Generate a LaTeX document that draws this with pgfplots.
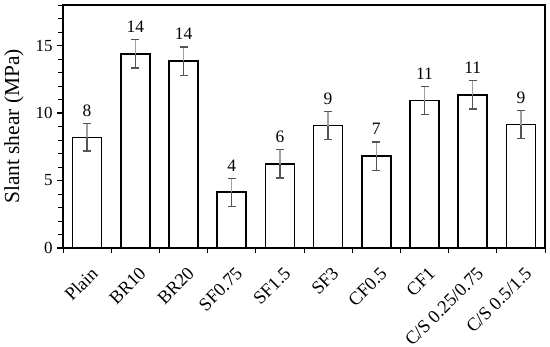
\documentclass[border=0pt]{standalone}
\usepackage{pgfplots}
\pgfplotsset{compat=1.18}
\usepackage{pgfplotstable}
\usepackage{fontspec}
\setmainfont{Liberation Serif}
\definecolor{errlight}{RGB}{160,160,160}
\definecolor{errdark}{RGB}{85,85,85}

\pgfplotstableread{
x y e lab
0 8.20 1.02 8
1 14.38 1.05 14
2 13.84 1.05 14
3 4.13 1.03 4
4 6.23 1.05 6
5 9.07 1.05 9
6 6.80 1.05 7
7 10.92 1.03 11
8 11.34 1.05 11
9 9.14 1.03 9
}\data

\begin{document}
\begin{tikzpicture}
\path[use as bounding box] (-63bp,-99bp) rectangle (487bp,248bp);
\begin{axis}[
  scale only axis, width=482bp, height=243bp,
  at={(0,0)}, anchor=south west,
  xmin=-0.5, xmax=9.5, ymin=0, ymax=18,
  axis line style={line width=1.2pt},
  xtick={0,...,9},
  xticklabels={Plain,BR10,BR20,SF0.75,SF1.5,SF3,CF0.5,CF1,C/S 0.25/0.75,C/S 0.5/1.5},
  major x tick style={draw=none},
  minor xtick={-0.5,0.5,...,9.5},
  ytick={0,5,10,15},
  minor ytick={1,2,3,4,6,7,8,9,11,12,13,14,16,17,18},
  xtick pos=bottom, ytick pos=left,
  tick align=outside,
  major tick length=6bp, minor tick length=5bp,
  every tick/.style={black, line width=1.1pt},
  every minor tick/.style={black, line width=1pt},
  /pgf/number format/assume math mode=true,
  yticklabel style={font=\fontsize{17}{17}\selectfont, xshift=-1bp},
  xticklabel style={font=\fontsize{18.5}{18.5}\selectfont, rotate=45, anchor=east, xshift=-3bp, yshift=-17bp},
  ylabel={Slant shear (MPa)},
  ylabel style={font=\fontsize{21.5}{21.5}\selectfont, at={(axis description cs:-0.1017,0.5)}, anchor=center, rotate=0},
]
\addplot[ybar, bar width=0.6, bar shift=0pt, fill=white, draw=black, line width=1.5pt,
  error bars/.cd, y dir=minus, y explicit,
  error bar style={draw=errdark, line width=1.3pt},
  error mark options={rotate=90, draw=errdark, mark size=4bp, line width=1.3pt}]
  table[x=x, y=y, y error=e]{\data};
\addplot[draw=none, mark=none,
  error bars/.cd, y dir=plus, y explicit,
  error bar style={draw=errlight, line width=1.3pt},
  error mark options={rotate=90, draw=errdark, mark size=4bp, line width=1.3pt}]
  table[x=x, y=y, y error=e]{\data};
\addplot[draw=none, mark=none, nodes near coords, point meta=explicit symbolic,
  nodes near coords style={font=\fontsize{17.5}{17.5}\selectfont, anchor=south, inner sep=0pt, yshift=7bp, text=black}]
  table[x=x, y expr=\thisrow{y}+\thisrow{e}, meta=lab]{\data};
\end{axis}
\end{tikzpicture}
\end{document}
